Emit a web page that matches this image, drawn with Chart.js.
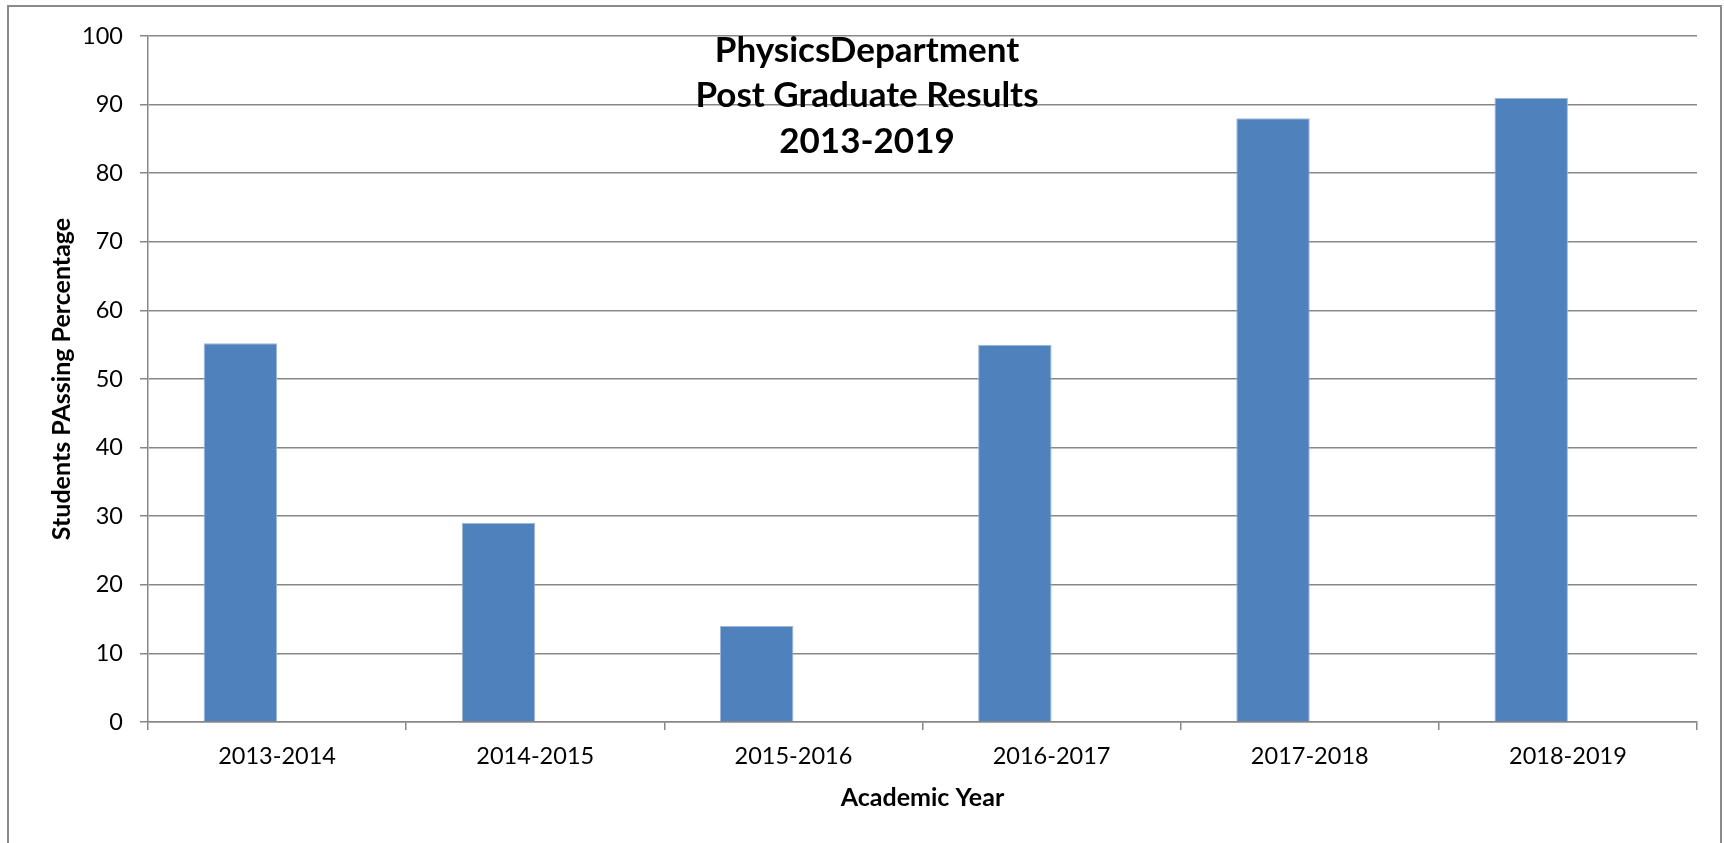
<!DOCTYPE html>
<html>
<head>
<meta charset="utf-8">
<script src="https://cdn.jsdelivr.net/npm/chart.js@4.4.1/dist/chart.umd.min.js"></script>
<style>
  html, body { margin: 0; padding: 0; background: #ffffff; }
  #wrap { position: relative; width: 1724px; height: 843px; }
</style>
</head>
<body>
<div id="wrap"><canvas id="c" width="1724" height="843"></canvas></div>
<script>
const categories = ["2013-2014", "2014-2015", "2015-2016", "2016-2017", "2017-2018", "2018-2019"];
const passingPercentage = [55.2, 29, 14, 55, 88, 91];
const emptySeries = [null, null, null, null, null, null];
const yTicks = [0, 10, 20, 30, 40, 50, 60, 70, 80, 90, 100];
const titleLines = ["PhysicsDepartment", "Post Graduate Results", "2013-2019"];
const xTitle = "Academic Year";
const yTitle = "Students PAssing Percentage";

const FONT = "Lato, 'Open Sans', sans-serif";
const GRID = "#878787";

const frameAndTitle = {
  id: "frameAndTitle",
  beforeDraw(chart) {
    const ctx = chart.ctx;
    ctx.save();
    ctx.fillStyle = "#ffffff";
    ctx.fillRect(0, 0, chart.width, chart.height);
    ctx.strokeStyle = "#8a8a8a";
    ctx.lineWidth = 2;
    ctx.strokeRect(8, 6, 1713, 860);
    ctx.restore();
  },
  afterDraw(chart) {
    const ctx = chart.ctx;
    ctx.save();
    ctx.fillStyle = "#000000";
    ctx.font = "bold 35px " + FONT;
    ctx.textAlign = "center";
    ctx.textBaseline = "alphabetic";
    const baselines = [62, 107, 153];
    titleLines.forEach((t, i) => ctx.fillText(t, 867, baselines[i]));
    ctx.restore();
  }
};

new Chart(document.getElementById("c"), {
  type: "bar",
  data: {
    labels: categories,
    datasets: [
      {
        label: "Passing %",
        data: passingPercentage,
        backgroundColor: "#4f81bd",
        borderColor: "#9db6da",
        borderWidth: 1,
        categoryPercentage: 0.569,
        barPercentage: 1.0
      },
      {
        label: "",
        data: emptySeries,
        backgroundColor: "#c0504d",
        categoryPercentage: 0.569,
        barPercentage: 1.0
      }
    ]
  },
  options: {
    responsive: false,
    animation: false,
    devicePixelRatio: 1,
    layout: { padding: { left: 8, top: 36, right: 27, bottom: 0 } },
    plugins: {
      legend: { display: false },
      title: { display: false },
      tooltip: { enabled: false }
    },
    scales: {
      x: {
        type: "category",
        offset: true,
        grid: {
          offset: true,
          drawOnChartArea: false,
          drawTicks: true,
          tickLength: 8,
          color: GRID,
          lineWidth: 1.5
        },
        border: { display: true, color: GRID, width: 1.5 },
        ticks: {
          color: "#000000",
          font: { family: FONT, size: 23.5 },
          padding: 12,
          maxRotation: 0,
          autoSkip: false
        },
        title: {
          display: true,
          text: xTitle,
          color: "#000000",
          font: { family: FONT, size: 25, weight: "bold" },
          padding: { top: 0, bottom: 30 }
        },
        afterFit(scale) { scale.height = 121; }
      },
      y: {
        type: "linear",
        min: 0,
        max: 100,
        afterBuildTicks(scale) { scale.ticks = yTicks.map(v => ({ value: v })); },
        grid: {
          color: GRID,
          lineWidth: 1.5,
          drawTicks: true,
          tickLength: 8
        },
        border: { display: true, color: GRID, width: 1.5 },
        ticks: {
          color: "#000000",
          font: { family: FONT, size: 23.5 },
          padding: 17
        },
        title: {
          display: true,
          text: yTitle,
          color: "#000000",
          font: { family: FONT, size: 25, weight: "bold" },
          padding: { top: 39, bottom: 0 }
        },
        afterFit(scale) { scale.width = 140; }
      }
    }
  },
  plugins: [frameAndTitle]
});
</script>
</body>
</html>
